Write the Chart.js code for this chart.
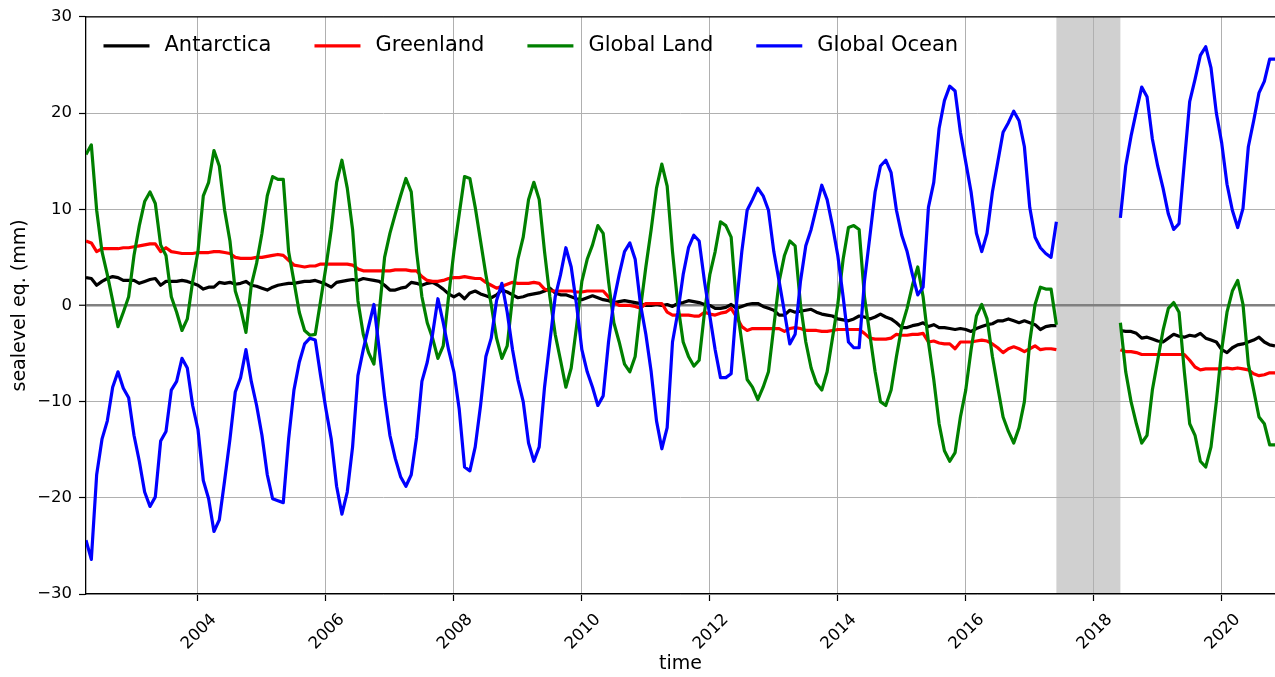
<!DOCTYPE html>
<html><head>
<meta charset="utf-8">
<title>sealevel eq.</title>
<style>html,body{margin:0;padding:0;background:#fff}</style>
</head>
<body>
<canvas id="chart" width="1275" height="677"></canvas>
<script src="https://cdn.jsdelivr.net/npm/chart.js"></script>
<script>
// monthly solutions, GRACE (to 2017-06) and GRACE-FO (from 2018-06)
const months = [
  '2002-04','2002-05','2002-06','2002-07','2002-08','2002-09','2002-10','2002-11','2002-12',
  '2003-01','2003-02','2003-03','2003-04','2003-05','2003-06','2003-07','2003-08','2003-09','2003-10','2003-11','2003-12',
  '2004-01','2004-02','2004-03','2004-04','2004-05','2004-06','2004-07','2004-08','2004-09','2004-10','2004-11','2004-12',
  '2005-01','2005-02','2005-03','2005-04','2005-05','2005-06','2005-07','2005-08','2005-09','2005-10','2005-11','2005-12',
  '2006-01','2006-02','2006-03','2006-04','2006-05','2006-06','2006-07','2006-08','2006-09','2006-10','2006-11','2006-12',
  '2007-01','2007-02','2007-03','2007-04','2007-05','2007-06','2007-07','2007-08','2007-09','2007-10','2007-11','2007-12',
  '2008-01','2008-02','2008-03','2008-04','2008-05','2008-06','2008-07','2008-08','2008-09','2008-10','2008-11','2008-12',
  '2009-01','2009-02','2009-03','2009-04','2009-05','2009-06','2009-07','2009-08','2009-09','2009-10','2009-11','2009-12',
  '2010-01','2010-02','2010-03','2010-04','2010-05','2010-06','2010-07','2010-08','2010-09','2010-10','2010-11','2010-12',
  '2011-01','2011-02','2011-03','2011-04','2011-05','2011-06','2011-07','2011-08','2011-09','2011-10','2011-11','2011-12',
  '2012-01','2012-02','2012-03','2012-04','2012-05','2012-06','2012-07','2012-08','2012-09','2012-10','2012-11','2012-12',
  '2013-01','2013-02','2013-03','2013-04','2013-05','2013-06','2013-07','2013-08','2013-09','2013-10','2013-11','2013-12',
  '2014-01','2014-02','2014-03','2014-04','2014-05','2014-06','2014-07','2014-08','2014-09','2014-10','2014-11','2014-12',
  '2015-01','2015-02','2015-03','2015-04','2015-05','2015-06','2015-07','2015-08','2015-09','2015-10','2015-11','2015-12',
  '2016-01','2016-02','2016-03','2016-04','2016-05','2016-06','2016-07','2016-08','2016-09','2016-10','2016-11','2016-12',
  '2017-01','2017-02','2017-03','2017-04','2017-05','2017-06','2017-07','2017-08','2017-09','2017-10','2017-11','2017-12',
  '2018-01','2018-02','2018-03','2018-04','2018-05','2018-06','2018-07','2018-08','2018-09','2018-10','2018-11','2018-12',
  '2019-01','2019-02','2019-03','2019-04','2019-05','2019-06','2019-07','2019-08','2019-09','2019-10','2019-11','2019-12',
  '2020-01','2020-02','2020-03','2020-04','2020-05','2020-06','2020-07','2020-08','2020-09','2020-10','2020-11'
];

const antarctica = [
  2.9, 2.8, 2.1, 2.5, 2.8, 3.0, 2.9, 2.6, 2.6,
  2.6, 2.3, 2.5, 2.7, 2.8, 2.1, 2.5, 2.5, 2.5, 2.6, 2.5, 2.3,
  2.1, 1.7, 1.9, 1.9, 2.4, 2.3, 2.4, 2.2, 2.3, 2.5, 2.1, 2.0,
  1.8, 1.6, 1.9, 2.1, 2.2, 2.3, 2.3, 2.4, 2.5, 2.5, 2.6, 2.4,
  2.2, 1.9, 2.4, 2.5, 2.6, 2.7, 2.6, 2.8, 2.7, 2.6, 2.5, 2.1,
  1.6, 1.6, 1.8, 1.9, 2.4, 2.3, 2.1, 2.3, 2.4, 2.1, 1.7, 1.2,
  0.9, 1.2, 0.7, 1.3, 1.5, 1.2, 1.0, 0.8, 1.1, 1.6, 1.4, 1.1,
  0.8, 0.9, 1.1, 1.2, 1.3, 1.5, 1.8, 1.3, 1.1, 1.1, 0.9, 0.7,
  0.6, 0.8, 1.0, 0.8, 0.6, 0.5, 0.3, 0.4, 0.5, 0.4, 0.3, 0.2,
  0.0, 0.0, 0.1, 0.0, 0.1, -0.1, 0.2, 0.3, 0.5, 0.4, 0.3, 0.1,
  0.0, -0.3, -0.3, -0.2, 0.1, -0.3, -0.1, 0.1, 0.2, 0.2, -0.1, -0.3,
  -0.5, -1.0, -1.0, -0.5, -0.7, -0.6, -0.5, -0.4, -0.7, -0.9, -1.0, -1.1,
  -1.4, -1.5, -1.6, -1.4, -1.1, -1.2, -1.4, -1.2, -0.9, -1.2, -1.4, -1.8,
  -2.3, -2.3, -2.1, -2.0, -1.8, -2.2, -2.0, -2.3, -2.3, -2.4, -2.5, -2.4,
  -2.5, -2.7, -2.4, -2.2, -2.0, -1.9, -1.6, -1.6, -1.4, -1.6, -1.8, -1.6,
  -1.8, -2.0, -2.5, -2.2, -2.1, -2.1, null, null, null, null, null, null,
  null, null, null, null, null, -2.6, -2.7, -2.7, -2.9, -3.4, -3.3, -3.5,
  -3.7, -3.8, -3.4, -3.0, -3.2, -3.3, -3.1, -3.2, -2.9, -3.4, -3.6, -3.8,
  -4.6, -4.9, -4.4, -4.1, -4.0, -3.8, -3.6, -3.3, -3.8, -4.1, -4.2
];

const greenland = [
  6.7, 6.5, 5.6, 5.9, 5.9, 5.9, 5.9, 6.0, 6.0,
  6.1, 6.2, 6.3, 6.4, 6.4, 5.6, 6.0, 5.6, 5.5, 5.4, 5.4, 5.4,
  5.5, 5.5, 5.5, 5.6, 5.6, 5.5, 5.4, 5.0, 4.9, 4.9, 4.9, 5.0,
  5.0, 5.1, 5.2, 5.3, 5.2, 4.7, 4.2, 4.1, 4.0, 4.1, 4.1, 4.3,
  4.3, 4.3, 4.3, 4.3, 4.3, 4.2, 3.8, 3.6, 3.6, 3.6, 3.6, 3.6,
  3.6, 3.7, 3.7, 3.7, 3.6, 3.6, 3.0, 2.6, 2.5, 2.5, 2.6, 2.8,
  2.9, 2.9, 3.0, 2.9, 2.8, 2.8, 2.4, 2.1, 1.8, 2.0, 2.2, 2.4,
  2.3, 2.3, 2.3, 2.4, 2.3, 1.7, 1.5, 1.5, 1.5, 1.5, 1.5, 1.4,
  1.4, 1.5, 1.5, 1.5, 1.5, 0.9, 0.3, 0.0, 0.0, 0.0, -0.1, -0.3,
  0.2, 0.2, 0.2, 0.2, -0.7, -1.0, -1.0, -1.0, -1.0, -1.1, -1.1, -0.7,
  -0.9, -1.0, -0.8, -0.7, -0.3, -1.2, -2.2, -2.6, -2.4, -2.4, -2.4, -2.4,
  -2.4, -2.4, -2.7, -2.4, -2.3, -2.4, -2.6, -2.6, -2.6, -2.7, -2.7, -2.6,
  -2.5, -2.5, -2.5, -2.5, -2.5, -2.9, -3.4, -3.5, -3.5, -3.5, -3.4, -3.0,
  -3.1, -3.1, -3.0, -3.0, -2.9, -3.8, -3.7, -3.9, -4.0, -4.0, -4.5, -3.8,
  -3.8, -3.8, -3.7, -3.6, -3.7, -4.0, -4.4, -4.9, -4.5, -4.3, -4.5, -4.8,
  -4.5, -4.2, -4.6, -4.5, -4.5, -4.6, null, null, null, null, null, null,
  null, null, null, null, null, -4.6, -4.8, -4.8, -4.9, -5.1, -5.1, -5.1,
  -5.1, -5.1, -5.1, -5.1, -5.1, -5.1, -5.7, -6.4, -6.7, -6.6, -6.6, -6.6,
  -6.6, -6.5, -6.6, -6.5, -6.6, -6.7, -7.1, -7.3, -7.2, -7.0, -7.0
];

const globalLand = [
  15.7, 16.7, 9.9, 5.6, 3.2, 0.5, -2.2, -0.7, 0.9,
  5.2, 8.3, 10.8, 11.8, 10.6, 6.3, 5.2, 0.9, -0.7, -2.6, -1.4, 2.5,
  5.6, 11.4, 12.8, 16.1, 14.5, 9.9, 6.7, 1.5, -0.3, -2.8, 2.1, 4.4,
  7.5, 11.4, 13.4, 13.1, 13.1, 5.6, 2.5, -0.7, -2.6, -3.1, -3.0, 0.5,
  4.0, 7.9, 12.8, 15.1, 12.2, 7.9, 0.5, -3.0, -4.9, -6.1, -0.7, 5.0,
  7.5, 9.5, 11.4, 13.2, 11.8, 5.6, 0.9, -1.8, -3.4, -5.5, -4.2, 0.9,
  5.6, 9.5, 13.4, 13.2, 10.2, 6.7, 3.2, 0.1, -3.4, -5.5, -4.2, 0.9,
  4.8, 7.1, 11.0, 12.8, 11.0, 5.6, 0.9, -3.0, -5.7, -8.5, -6.5, -2.2,
  2.5, 4.8, 6.3, 8.3, 7.5, 2.5, -1.8, -3.8, -6.1, -6.9, -5.3, -0.3,
  4.0, 7.9, 12.2, 14.7, 12.4, 5.6, 0.1, -3.8, -5.3, -6.3, -5.7, -0.7,
  3.2, 5.6, 8.7, 8.3, 7.1, 0.1, -3.8, -7.7, -8.5, -9.8, -8.5, -6.9,
  -2.2, 2.5, 5.2, 6.7, 6.2, 0.1, -3.8, -6.5, -8.1, -8.8, -6.9, -3.4,
  0.1, 4.8, 8.1, 8.3, 7.9, 0.9, -3.0, -6.9, -10.0, -10.4, -8.8, -5.3,
  -2.2, -0.3, 2.1, 4.0, 0.9, -3.8, -7.7, -12.3, -15.1, -16.2, -15.3, -11.6,
  -8.8, -4.6, -1.1, 0.1, -1.4, -5.3, -8.5, -11.6, -13.1, -14.3, -12.7, -10.0,
  -3.8, 0.1, 1.9, 1.7, 1.7, -2.0, null, null, null, null, null, null,
  null, null, null, null, null, -1.8, -6.9, -10.0, -12.3, -14.3, -13.5, -8.8,
  -5.7, -2.6, -0.3, 0.3, -0.7, -6.9, -12.3, -13.5, -16.2, -16.8, -14.7, -10.0,
  -4.6, -0.7, 1.5, 2.6, 0.1, -6.1, -8.8, -11.6, -12.3, -14.5, -14.5
];

const globalOcean = [
  -24.4, -26.4, -17.6, -13.9, -12.0, -8.5, -6.9, -8.6, -9.6,
  -13.5, -16.2, -19.4, -20.9, -19.9, -14.1, -13.1, -8.8, -7.9, -5.5, -6.5, -10.4,
  -12.9, -18.2, -20.1, -23.5, -22.3, -18.2, -13.9, -9.0, -7.5, -4.6, -7.9, -10.4,
  -13.5, -17.6, -20.1, -20.3, -20.5, -13.9, -8.8, -5.9, -4.0, -3.4, -3.6, -7.3,
  -10.8, -13.9, -18.8, -21.7, -19.4, -14.7, -7.3, -4.6, -2.2, 0.1, -4.6, -9.5,
  -13.5, -15.9, -17.8, -18.8, -17.6, -13.7, -7.9, -5.9, -3.0, 0.7, -1.8, -4.6,
  -6.9, -10.8, -16.8, -17.2, -14.7, -10.4, -5.3, -3.4, 0.5, 2.3, -0.7, -4.6,
  -7.7, -10.0, -14.3, -16.2, -14.7, -8.5, -3.8, 0.9, 3.2, 6.0, 4.0, 0.1,
  -4.6, -6.9, -8.5, -10.4, -9.4, -3.8, 0.5, 3.2, 5.6, 6.5, 4.8, 0.1,
  -3.0, -6.9, -12.0, -14.9, -12.7, -3.8, -0.7, 3.2, 6.0, 7.3, 6.7, 2.5,
  -1.1, -4.6, -7.5, -7.5, -7.1, 0.1, 5.6, 9.9, 11.0, 12.2, 11.4, 9.9,
  5.6, 2.5, -0.7, -4.0, -3.0, 2.5, 6.2, 7.9, 10.2, 12.5, 11.0, 8.3,
  5.2, 0.9, -3.8, -4.4, -4.4, 2.5, 7.1, 11.8, 14.5, 15.1, 13.8, 9.9,
  7.3, 5.6, 3.2, 1.1, 1.9, 10.2, 12.8, 18.4, 21.3, 22.8, 22.3, 18.0,
  14.9, 11.8, 7.5, 5.6, 7.5, 11.8, 14.9, 18.0, 19.0, 20.2, 19.2, 16.5,
  10.2, 7.1, 6.0, 5.4, 5.0, 8.7, null, null, null, null, null, null,
  null, null, null, null, null, 9.1, 14.5, 17.6, 20.2, 22.7, 21.7, 17.3,
  14.5, 12.2, 9.5, 7.9, 8.5, 14.9, 21.2, 23.5, 26.0, 26.9, 24.7, 20.0,
  16.9, 12.6, 9.9, 8.1, 10.1, 16.5, 19.2, 22.1, 23.3, 25.6, 25.6
];

const seriesNames = ['Antarctica', 'Greenland', 'Global Land', 'Global Ocean'];
const seriesColors = ['#000000', '#ff0000', '#008000', '#0000ff'];
const xTicks = [2004, 2006, 2008, 2010, 2012, 2014, 2016, 2018, 2020];
const yTicks = [-30, -20, -10, 0, 10, 20, 30];
const gapMonths = ['2017-06', '2018-06'];  // shaded: no data between the missions

const FONT = "'DejaVu Sans', 'Liberation Sans', sans-serif";

function decYear(s) {
  const p = s.split('-');
  return Number(p[0]) + (Number(p[1]) - 1) / 12;
}
const t = months.map(decYear);

const series = [antarctica, greenland, globalLand, globalOcean];
const datasets = series.map((vals, k) => ({
  label: seriesNames[k],
  data: vals.map((v, i) => ({x: t[i], y: v})),
  borderColor: seriesColors[k],
  backgroundColor: seriesColors[k],
  borderWidth: 3.2,
  borderJoinStyle: 'round',
  pointRadius: 0,
  pointHoverRadius: 0,
  tension: 0,
  spanGaps: false,
  order: series.length - k   // last one drawn on top, like matplotlib
}));

const extras = {
  id: 'extras',
  beforeDraw(chart) {
    const {ctx, chartArea: a, scales: {x}} = chart;
    const x0 = x.getPixelForValue(decYear(gapMonths[0]));
    const x1 = x.getPixelForValue(decYear(gapMonths[1]));
    ctx.save();
    ctx.fillStyle = '#d0d0d0';
    ctx.fillRect(x0, a.top, x1 - x0, a.bottom - a.top);
    ctx.restore();
  },
  afterDatasetsDraw(chart) {
    const {ctx, chartArea: a} = chart;
    ctx.save();
    // top spine
    ctx.strokeStyle = '#000';
    ctx.lineWidth = 1.3;
    ctx.beginPath();
    ctx.moveTo(a.left, a.top);
    ctx.lineTo(a.right, a.top);
    ctx.stroke();
    // legend inside the axes, one row
    ctx.font = '21px ' + FONT;
    ctx.textBaseline = 'middle';
    let lx = a.left + 17.5;
    const ly = a.top + 29;
    chart.data.datasets.forEach(ds => {
      ctx.strokeStyle = ds.borderColor;
      ctx.lineWidth = 3.2;
      ctx.beginPath();
      ctx.moveTo(lx, ly);
      ctx.lineTo(lx + 46, ly);
      ctx.stroke();
      ctx.fillStyle = '#000';
      ctx.fillText(ds.label, lx + 61, ly);
      lx += 61 + ctx.measureText(ds.label).width + 43;
    });
    ctx.restore();
  }
};

new Chart(document.getElementById('chart'), {
  type: 'line',
  data: {datasets: datasets},
  options: {
    responsive: false,
    animation: false,
    devicePixelRatio: 1,
    layout: {padding: {top: 15, right: 0, bottom: 0, left: 0}},
    plugins: {legend: {display: false}, tooltip: {enabled: false}},
    scales: {
      x: {
        type: 'linear',
        min: t[0],
        max: t[t.length - 1],
        afterBuildTicks: s => { s.ticks = xTicks.map(v => ({value: v})); },
        afterFit: s => { s.height = 83; },
        grid: {color: '#b0b0b0', lineWidth: 1, tickColor: '#000', tickLength: 7, tickWidth: 1.2},
        border: {color: '#000', width: 1.3},
        ticks: {
          autoSkip: false, minRotation: 45, maxRotation: 45, padding: 9, labelOffset: 16,
          color: '#000', font: {family: FONT, size: 16.5},
          callback: v => String(v)
        },
        title: {display: true, text: 'time', color: '#000',
                font: {family: FONT, size: 19}, padding: {top: 0, bottom: 2}}
      },
      y: {
        type: 'linear',
        min: -30,
        max: 30,
        afterBuildTicks: s => { s.ticks = yTicks.map(v => ({value: v})); },
        afterFit: s => { s.width = 86; },
        grid: {
          color: c => (c.tick && c.tick.value === 0) ? '#808080' : '#b0b0b0',
          lineWidth: c => (c.tick && c.tick.value === 0) ? 2.5 : 1,
          tickColor: '#000', tickLength: 7, tickWidth: 1.2
        },
        border: {color: '#000', width: 1.3},
        ticks: {
          padding: 7, color: '#000', font: {family: FONT, size: 16.5},
          callback: v => String(v).replace('-', '\u2212')
        },
        title: {display: true, text: 'sealevel eq. (mm)', color: '#000',
                font: {family: FONT, size: 19}, padding: {top: 9, bottom: 0}}
      }
    }
  },
  plugins: [extras]
});
</script>
</body></html>
